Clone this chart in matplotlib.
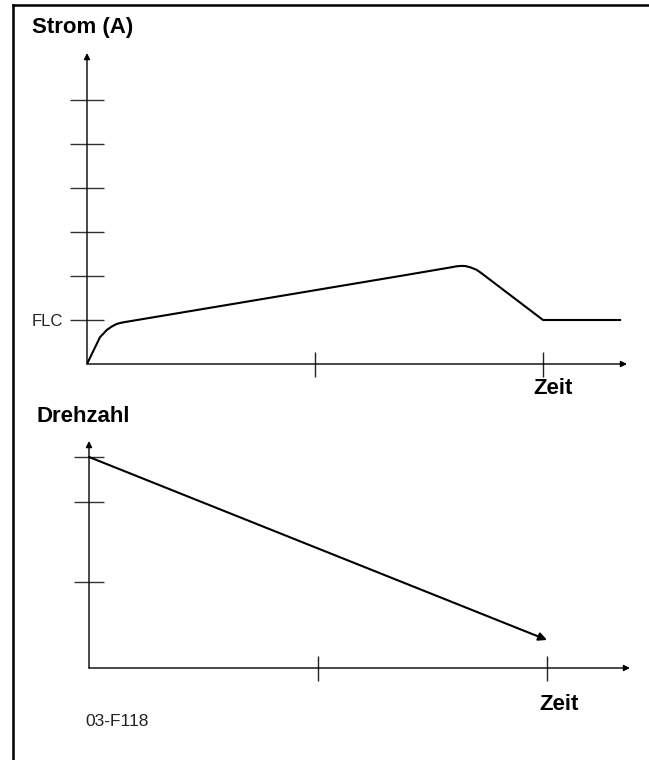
import matplotlib
matplotlib.use("Agg")
import matplotlib.pyplot as plt
from matplotlib.lines import Line2D

plt.rcParams['font.family'] = ['Liberation Sans', 'DejaVu Sans']

W, H = 649, 760

# Strom (current) over time: time in tick units, current in FLC units
strom_t = [0.0, 0.057, 0.072, 0.086, 0.108, 0.130, 0.152, 0.174, 1.373, 1.60,
           1.62, 1.643, 1.66, 1.68, 1.709, 1.731, 2.0, 2.338]
strom_i = [0.0, 0.61, 0.69, 0.77, 0.85, 0.91, 0.94, 0.96, 2.0, 2.20,
           2.22, 2.23, 2.225, 2.20, 2.14, 2.06, 1.0, 1.0]
strom_yticks = [1, 2, 3, 4, 5, 6]
strom_ylabels = ['FLC', '', '', '', '', '']
zeit_ticks = [1, 2]

# Drehzahl (speed) over time
drehzahl_t = [0.0, 2.0]
drehzahl_n = [1.0, 0.133]
drehzahl_yticks = [0.408, 0.787, 1.0]


def px_axes(fig, x0, y0, x1, y1):
    """Axes whose box spans pixel corners (x0, y0 top) .. (x1, y1 bottom)."""
    return fig.add_axes([x0 / W, 1 - y1 / H, (x1 - x0) / W, (y1 - y0) / H])


def draw_axes_arrows(ax, xmax, ymax):
    for s in ax.spines.values():
        s.set_visible(False)
    style = dict(arrowstyle='-|>', lw=1.0, color='black',
                 mutation_scale=9, shrinkA=0, shrinkB=0)
    ax.annotate('', xy=(0, ymax), xytext=(0, 0), arrowprops=style,
                annotation_clip=False)
    ax.annotate('', xy=(xmax, 0), xytext=(0, 0), arrowprops=style,
                annotation_clip=False)
    ax.set_xlim(0, xmax)
    ax.set_ylim(0, ymax)
    ax.patch.set_visible(False)


fig = plt.figure(figsize=(W / 100, H / 100), dpi=100)

# Top panel: current
ax1 = px_axes(fig, 87, 53, 627, 364)
draw_axes_arrows(ax1, (627 - 87) / 228, (364 - 53) / 44)
ax1.plot(strom_t, strom_i, color='black', lw=1.5, solid_joinstyle='round')
ax1.set_xticks(zeit_ticks)
ax1.set_xticklabels([])
ax1.set_yticks(strom_yticks)
ax1.set_yticklabels(strom_ylabels, fontsize=12, color='#222222')
ax1.tick_params(axis='x', direction='inout', length=18, width=1.0, color='#222222')
ax1.tick_params(axis='y', direction='inout', length=24, width=1.0, color='#333333', pad=5)

# Bottom panel: speed
ax2 = px_axes(fig, 89, 441, 630, 668)
draw_axes_arrows(ax2, (630 - 89) / 229, (668 - 441) / 211)
ax2.annotate('', xy=(drehzahl_t[1], drehzahl_n[1]),
             xytext=(drehzahl_t[0], drehzahl_n[0]),
             arrowprops=dict(arrowstyle='-|>', lw=1.5, color='black',
                             mutation_scale=12, shrinkA=0, shrinkB=0))
ax2.set_xticks(zeit_ticks)
ax2.set_xticklabels([])
ax2.set_yticks(drehzahl_yticks)
ax2.set_yticklabels([])
ax2.tick_params(axis='x', direction='inout', length=18, width=1.0, color='#222222')
ax2.tick_params(axis='y', direction='inout', length=22, width=1.0, color='#333333')


def ptext(x, y, s, **kw):
    fig.text(x / W, 1 - y / H, s, **kw)


ptext(32, 27, 'Strom (A)', fontsize=16, fontweight='bold', va='center', ha='left')
ptext(553, 388, 'Zeit', fontsize=16, fontweight='bold', va='center', ha='center')
ptext(37, 416, 'Drehzahl', fontsize=16, fontweight='bold', va='center', ha='left')
ptext(559, 705, 'Zeit', fontsize=16, fontweight='bold', va='center', ha='center')
ptext(85, 721.5, '03-F118', fontsize=12.5, va='center', ha='left', color='#222222')

# Frame lines along the top and left edges
fig.add_artist(Line2D([13 / W, 1.0], [1 - 5 / H, 1 - 5 / H], color='black', lw=1.8,
                      transform=fig.transFigure))
fig.add_artist(Line2D([13 / W, 13 / W], [1 - 5 / H, 0.0], color='black', lw=1.8,
                      transform=fig.transFigure))

fig.savefig('out.png', dpi=100)
